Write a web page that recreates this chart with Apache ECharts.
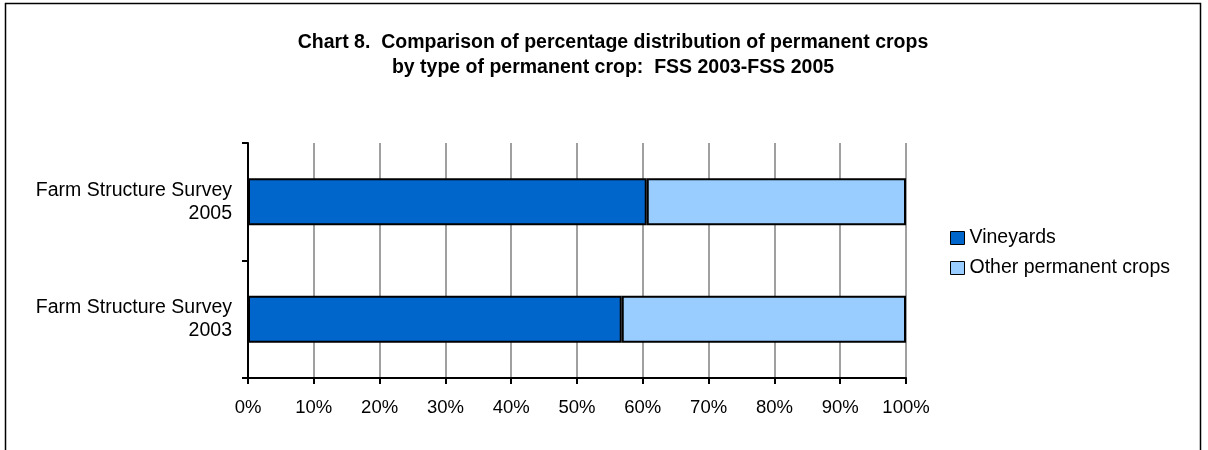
<!DOCTYPE html>
<html>
<head>
<meta charset="utf-8">
<script src="https://cdn.jsdelivr.net/npm/echarts@6/dist/echarts.min.js"></script>
<style>
  html, body { margin: 0; padding: 0; background: #fff; }
  #main { width: 1208px; height: 450px; }
</style>
</head>
<body>
<div id="main"></div>
<script>
var categories = ["Farm Structure Survey\n2003", "Farm Structure Survey\n2005"];
var vineyards = [56.8, 60.6];
var otherCrops = [43.2, 39.4];
var seriesNames = ["Vineyards", "Other permanent crops"];

var chartDom = document.getElementById("main");
var myChart = echarts.init(chartDom);
var font = "Liberation Sans, Arial, sans-serif";

var option = {
  backgroundColor: "#fff",
  textStyle: { fontFamily: font },
  graphic: [
    {
      type: "rect",
      shape: { x: 5.5, y: 3.5, width: 1195, height: 460 },
      style: { fill: "none", stroke: "#000", lineWidth: 1.5 },
      silent: true
    }
  ],
  title: {
    text: "Chart 8.  Comparison of percentage distribution of permanent crops\nby type of permanent crop:  FSS 2003-FSS 2005",
    left: 608,
    top: 25,
    textAlign: "center",
    textStyle: {
      fontFamily: font,
      fontSize: 19.5,
      fontWeight: "bold",
      color: "#000",
      lineHeight: 25
    }
  },
  legend: {
    data: seriesNames,
    orient: "vertical",
    left: 950,
    top: 228,
    padding: 0,
    itemWidth: 14,
    itemHeight: 13,
    itemGap: 10,
    icon: "rect",
    itemStyle: { borderColor: "#000", borderWidth: 1 },
    textStyle: { fontFamily: font, fontSize: 19.5, color: "#000" }
  },
  grid: { left: 248, right: 302, top: 143, bottom: 72, containLabel: false },
  xAxis: {
    type: "value",
    min: 0,
    max: 100,
    interval: 10,
    axisLine: { show: true, lineStyle: { color: "#000", width: 2 } },
    axisTick: { show: true, length: 6, lineStyle: { color: "#000", width: 2 } },
    axisLabel: {
      formatter: "{value}%",
      margin: 20,
      fontFamily: font,
      fontSize: 18.5,
      color: "#000"
    },
    splitLine: { show: true, lineStyle: { color: "#a0a0a0", width: 2 } }
  },
  yAxis: {
    type: "category",
    data: categories,
    axisLine: { show: true, lineStyle: { color: "#000", width: 2 } },
    axisTick: { show: true, length: 6, lineStyle: { color: "#000", width: 2 } },
    axisLabel: {
      margin: 16,
      fontFamily: font,
      fontSize: 19.5,
      lineHeight: 23,
      color: "#000",
      align: "right"
    },
    splitLine: { show: false }
  },
  series: [
    {
      name: seriesNames[0],
      type: "bar",
      stack: "a",
      data: vineyards,
      barWidth: 47,
      itemStyle: { color: "#0066cc", borderColor: "#000", borderWidth: 2 }
    },
    {
      name: seriesNames[1],
      type: "bar",
      stack: "a",
      data: otherCrops,
      barWidth: 47,
      itemStyle: { color: "#99ccff", borderColor: "#000", borderWidth: 2 }
    }
  ]
};

option && myChart.setOption(option);
</script>
</body>
</html>
